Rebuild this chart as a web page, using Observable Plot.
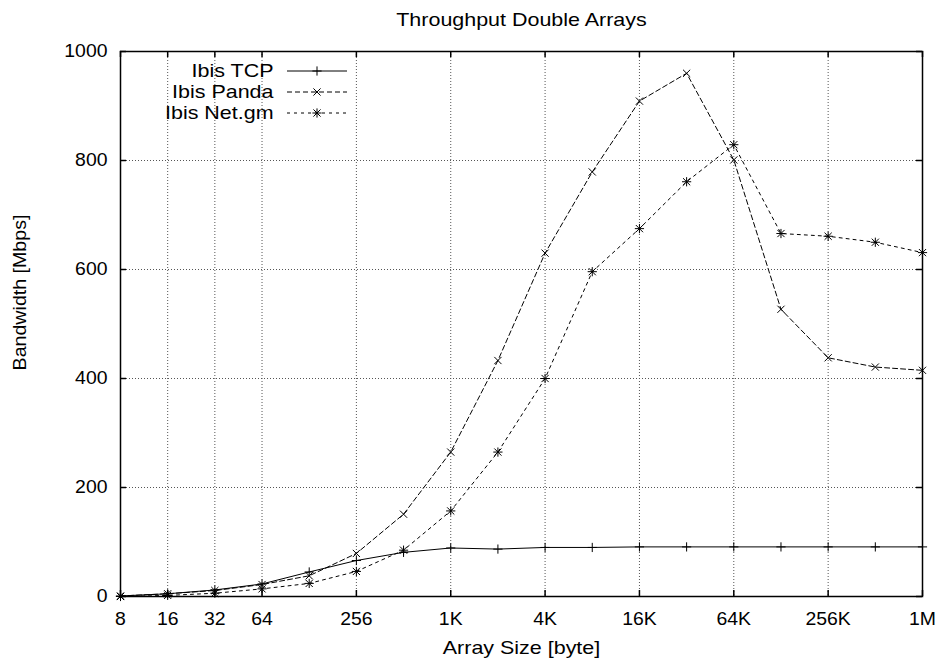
<!DOCTYPE html>
<html><head><meta charset="utf-8">
<script src="https://cdn.jsdelivr.net/npm/d3@7"></script>
<script src="https://cdn.jsdelivr.net/npm/@observablehq/plot@0.6"></script>
<style>
body{margin:0;background:#fff;}
</style></head><body><div id="chart"></div><script>
const sizes = [8,16,32,64,128,256,512,1024,2048,4096,8192,16384,32768,65536,131072,262144,524288,1048576];
const tcp   = [1,5,12,23,45,66,81,89,87,90,90,91,91,91,91,91,91,91];
const panda = [1,5,11,22,38,79,151,265,433,630,779,909,960,801,527,438,421,415];
const netgm = [0,2,6,14,24,46,85,157,265,400,596,675,761,829,666,661,650,631];
const seriesNames = ["Ibis TCP","Ibis Panda","Ibis Net.gm"];
const xTicks = [8,16,32,64,256,1024,4096,16384,65536,262144,1048576];
const xTickLabels = ["8","16","32","64","256","1K","4K","16K","64K","256K","1M"];
const yTicks = [0,200,400,600,800,1000];
const titleText = "Throughput Double Arrays";
const xLabel = "Array Size [byte]";
const yLabel = "Bandwidth [Mbps]";

const seriesValues = [tcp, panda, netgm];
const data = [];
seriesValues.forEach((vals,i)=>vals.forEach((v,j)=>data.push({series:seriesNames[i], size:sizes[j], bw:v})));

const symPlus = {draw(ctx,size){const r=Math.sqrt(size/Math.PI);ctx.moveTo(-r,0);ctx.lineTo(r,0);ctx.moveTo(0,-r);ctx.lineTo(0,r);}};
const symCross = {draw(ctx,size){const r=Math.sqrt(size/Math.PI)*0.78;ctx.moveTo(-r,-r);ctx.lineTo(r,r);ctx.moveTo(-r,r);ctx.lineTo(r,-r);}};
const symStar = {draw(ctx,size){symPlus.draw(ctx,size);symCross.draw(ctx,size);}};
const symbols = [symPlus, symCross, symStar];
const dashes = [null, "5,3", "3,4"];

const W=941, H=661, mL=120, mR=19, mT=51, mB=65;
const pW = W-mL-mR, pH = H-mT-mB;
const font = {fontFamily:"'Liberation Sans', Arial, sans-serif", fontSize:"18.5px", background:"#fff", color:"#000"};

const marks = [];
marks.push(Plot.ruleX(xTicks.slice(1,-1), {stroke:"#555", strokeWidth:1, strokeDasharray:"1,2"}));
marks.push(Plot.ruleY(yTicks.slice(1,-1), {stroke:"#555", strokeWidth:1, strokeDasharray:"1,2"}));
marks.push(Plot.ruleX(xTicks, {stroke:"#000", strokeWidth:1.5, insetTop:pH-6}));
marks.push(Plot.ruleX(xTicks, {stroke:"#000", strokeWidth:1.5, insetBottom:pH-6}));
marks.push(Plot.ruleY(yTicks, {stroke:"#000", strokeWidth:1.5, insetRight:pW-6}));
marks.push(Plot.ruleY(yTicks, {stroke:"#000", strokeWidth:1.5, insetLeft:pW-6}));
seriesNames.forEach((name,i)=>{
  const d = data.filter(r=>r.series===name);
  marks.push(Plot.line(d, {x:"size", y:"bw", stroke:"#000", strokeWidth:1, strokeDasharray:dashes[i]}));
  marks.push(Plot.dot(d, {x:"size", y:"bw", r:4.6, symbol:symbols[i], stroke:"#000", fill:"none", strokeWidth:1}));
});
marks.push(Plot.frame({stroke:"#000", strokeWidth:1.5}));
marks.push(Plot.axisX(xTicks, {tickSize:0, tickPadding:15, tickFormat:d=>xTickLabels[xTicks.indexOf(d)], label:null}));
marks.push(Plot.axisY(yTicks, {tickSize:0, tickPadding:13, tickFormat:d=>String(d), label:null}));
marks.push(Plot.text([titleText], {text:d=>d, frameAnchor:"top", dy:-31, textAnchor:"middle", lineAnchor:"middle"}));
marks.push(Plot.text([xLabel], {text:d=>d, frameAnchor:"bottom", dy:52, textAnchor:"middle", lineAnchor:"middle"}));
marks.push(Plot.text([yLabel], {text:d=>d, frameAnchor:"left", dx:-100, dy:-31.5, rotate:-90, textAnchor:"middle", lineAnchor:"middle", className:"ylab"}));
seriesNames.forEach((name,i)=>{
  marks.push(Plot.text([name], {text:d=>d, frameAnchor:"top-left", dx:153, dy:20+21*i, textAnchor:"end", lineAnchor:"middle"}));
});
marks.push((index, scales, values, dims) => {
  const g = d3.create("svg:g");
  seriesNames.forEach((name,i)=>{
    const y = dims.marginTop + 20 + 21*i;
    const x0 = dims.marginLeft + 167, x1 = dims.marginLeft + 227, xm = dims.marginLeft + 197;
    const ln = g.append("line").attr("x1",x0).attr("x2",x1).attr("y1",y).attr("y2",y).attr("stroke","#000").attr("stroke-width",1);
    if (dashes[i]) ln.attr("stroke-dasharray", dashes[i]);
    g.append("path").attr("transform",`translate(${xm},${y})`).attr("d", d3.symbol().type(symbols[i]).size(4.6*4.6*Math.PI)()).attr("stroke","#000").attr("fill","none");
  });
  return g.node();
});

const chart = Plot.plot({
  width: W, height: H,
  marginLeft: mL, marginRight: mR, marginTop: mT, marginBottom: mB,
  style: font,
  x: {type:"log", base:2, domain:[8,1048576], axis:null},
  y: {type:"linear", domain:[0,1000], axis:null},
  marks
});
document.getElementById("chart").appendChild(chart);
// the reference type is set slightly wide: stretch glyphs along the baseline
d3.select(chart).selectAll("text").each(function(){
  const isY = this.closest(".ylab") !== null;
  const isTick = this.closest('[aria-label$="tick label"]') !== null;
  const s = isY ? 1.06 : isTick ? 1.05 : 1.16;
  const L = this.getComputedTextLength();
  if (L > 0) {
    this.setAttribute("textLength", (L * s).toFixed(2));
    this.setAttribute("lengthAdjust", "spacingAndGlyphs");
  }
});
</script></body></html>
